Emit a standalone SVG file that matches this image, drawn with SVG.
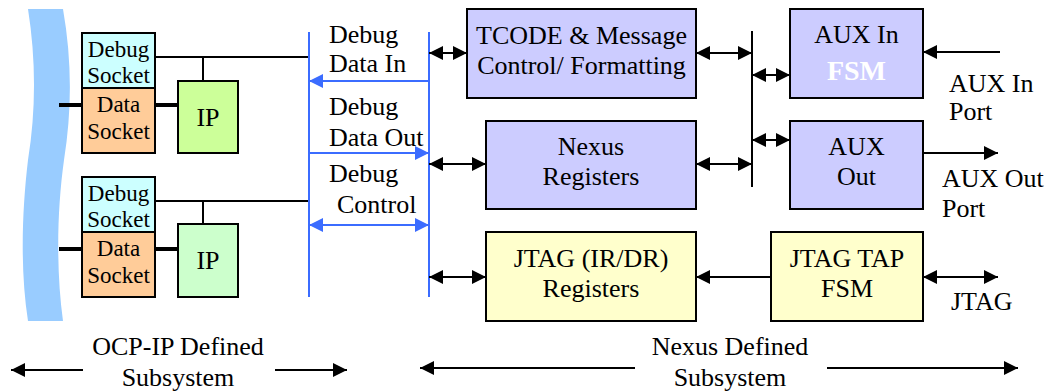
<svg xmlns="http://www.w3.org/2000/svg" width="1047" height="391" viewBox="0 0 1047 391">
  <style>
    text { font-family: "Liberation Serif", "Times New Roman", serif; font-size: 26px; fill: #000; }
    .sock { font-size: 23px; }
    .mid { text-anchor: middle; }
    .box { stroke: #000; stroke-width: 2; }
    .dbg { fill: #ccffff; }
    .dat { fill: #ffcc99; }
    .ip1 { fill: #ccff99; }
    .ip2 { fill: #ccffcc; }
    .nex { fill: #ccccff; }
    .jtg { fill: #ffffcc; }
    .wire { stroke: #000; stroke-width: 2; fill: none; }
    .thick { stroke: #000; stroke-width: 4; fill: none; }
    .bus { stroke: #3b6cff; stroke-width: 2; fill: none; }
    .ab { marker-end: url(#ah); }
    .aa { marker-start: url(#ah); marker-end: url(#ah); }
    .bb { marker-end: url(#bh); }
    .ba { marker-start: url(#bh); marker-end: url(#bh); }
  </style>
  <defs>
    <marker id="ah" markerUnits="userSpaceOnUse" markerWidth="14" markerHeight="14" refX="14" refY="7" orient="auto-start-reverse">
      <path d="M0,0 L14,7 L0,14 Z" fill="#000"/>
    </marker>
    <marker id="bh" markerUnits="userSpaceOnUse" markerWidth="14" markerHeight="14" refX="14" refY="7" orient="auto-start-reverse">
      <path d="M0,0 L14,7 L0,14 Z" fill="#3b6cff"/>
    </marker>
  </defs>

  <rect width="1047" height="391" fill="#fff"/>

  <!-- OCP interconnect backbone -->
  <g id="ocp-bus">
    <path d="M28,9 L63,9 C72,60 72,110 64,160 C57,210 56,270 63,321 L28,321 C20,270 22,210 28,160 C36,110 36,60 28,9 Z" fill="#99ccff"/>
  </g>

  <!-- upper IP core with its sockets -->
  <g id="ip-core-1">
    <rect class="box dbg" x="82" y="33" width="73" height="55"/>
    <text class="sock mid" x="118.5" y="57">Debug</text>
    <text class="sock mid" x="118.5" y="83">Socket</text>
    <rect class="box dat" x="82" y="88" width="73" height="65"/>
    <text class="sock mid" x="118.5" y="112">Data</text>
    <text class="sock mid" x="118.5" y="139">Socket</text>
    <rect class="box ip1" x="178" y="81" width="60" height="72"/>
    <text class="mid" x="208" y="126">IP</text>
  </g>

  <!-- lower IP core with its sockets -->
  <g id="ip-core-2">
    <rect class="box dbg" x="82" y="177" width="73" height="55"/>
    <text class="sock mid" x="118.5" y="201">Debug</text>
    <text class="sock mid" x="118.5" y="227">Socket</text>
    <rect class="box dat" x="82" y="232" width="73" height="65"/>
    <text class="sock mid" x="118.5" y="256">Data</text>
    <text class="sock mid" x="118.5" y="283">Socket</text>
    <rect class="box ip2" x="178" y="224" width="60" height="73"/>
    <text class="mid" x="208" y="269">IP</text>
  </g>

  <!-- debug bus signal labels -->
  <g id="debug-bus-labels">
    <text x="329" y="43">Debug</text>
    <text x="329" y="72">Data In</text>
    <text x="329" y="115">Debug</text>
    <text x="329" y="146">Data Out</text>
    <text x="329" y="182">Debug</text>
    <text x="337" y="213">Control</text>
  </g>

  <g id="tcode">
    <rect class="box nex" x="467" y="9" width="229" height="89"/>
    <text class="mid" x="581.5" y="44">TCODE &amp; Message</text>
    <text class="mid" x="581.5" y="74">Control/ Formatting</text>
  </g>

  <g id="nexus-registers">
    <rect class="box nex" x="486" y="121" width="210" height="88"/>
    <text class="mid" x="591" y="155">Nexus</text>
    <text class="mid" x="591" y="185">Registers</text>
  </g>

  <g id="aux-in">
    <rect class="box nex" x="790" y="9" width="133" height="89"/>
    <text class="mid" x="856.5" y="43">AUX In</text>
    <text class="mid" x="856.5" y="80" style="font-weight:bold;font-size:28px;fill:#fff">FSM</text>
  </g>

  <g id="aux-out">
    <rect class="box nex" x="790" y="121" width="133" height="88"/>
    <text class="mid" x="856.5" y="155">AUX</text>
    <text class="mid" x="856.5" y="185">Out</text>
  </g>

  <g id="jtag-registers">
    <rect class="box jtg" x="486" y="232" width="210" height="89"/>
    <text class="mid" x="591" y="267">JTAG (IR/DR)</text>
    <text class="mid" x="591" y="297">Registers</text>
  </g>

  <g id="jtag-tap">
    <rect class="box jtg" x="771" y="232" width="152" height="89"/>
    <text class="mid" x="847" y="267">JTAG TAP</text>
    <text class="mid" x="847" y="297">FSM</text>
  </g>

  <!-- external port labels -->
  <g id="port-labels">
    <text x="949" y="92">AUX In</text>
    <text x="949" y="120">Port</text>
    <text x="942" y="187">AUX Out</text>
    <text x="942" y="217">Port</text>
    <text x="951" y="310">JTAG</text>
  </g>

  <!-- subsystem extents -->
  <g id="subsystem-labels">
    <text class="mid" x="178" y="355">OCP-IP Defined</text>
    <text class="mid" x="178" y="386">Subsystem</text>
    <text class="mid" x="730" y="355">Nexus Defined</text>
    <text class="mid" x="730" y="386">Subsystem</text>
  </g>

  <g id="connectors">
    <!-- socket links -->
    <line class="thick" x1="59" y1="105" x2="82" y2="105"/>
    <line class="thick" x1="155" y1="105" x2="178" y2="105"/>
    <line class="thick" x1="59" y1="249" x2="82" y2="249"/>
    <line class="thick" x1="155" y1="249" x2="178" y2="249"/>
    <polyline class="wire" points="155,57 309,57"/>
    <line class="wire" x1="203" y1="57" x2="203" y2="81"/>
    <polyline class="wire" points="155,201 309,201"/>
    <line class="wire" x1="203" y1="201" x2="203" y2="224"/>

    <!-- debug bus rails -->
    <line class="bus" x1="309" y1="32" x2="309" y2="297"/>
    <line class="bus" x1="429" y1="32" x2="429" y2="297"/>
    <line class="bus bb" x1="429" y1="81" x2="309" y2="81"/>
    <line class="bus bb" x1="309" y1="153" x2="429" y2="153"/>
    <line class="bus ba" x1="309" y1="225" x2="429" y2="225"/>

    <!-- Nexus side -->
    <line class="wire aa" x1="429" y1="53" x2="467" y2="53"/>
    <line class="wire aa" x1="429" y1="164" x2="486" y2="164"/>
    <line class="wire aa" x1="429" y1="277" x2="486" y2="277"/>
    <line class="wire aa" x1="696" y1="53" x2="752" y2="53"/>
    <line class="wire aa" x1="696" y1="164" x2="752" y2="164"/>
    <line class="wire" x1="752" y1="31" x2="752" y2="187"/>
    <line class="wire aa" x1="752" y1="75" x2="790" y2="75"/>
    <line class="wire aa" x1="752" y1="140" x2="790" y2="140"/>
    <line class="wire ab" x1="1000" y1="52" x2="923" y2="52"/>
    <line class="wire ab" x1="923" y1="153" x2="998" y2="153"/>
    <line class="wire ab" x1="771" y1="277" x2="696" y2="277"/>
    <line class="wire aa" x1="923" y1="277" x2="998" y2="277"/>

    <!-- subsystem extent arrows -->
    <line class="wire ab" x1="83" y1="370" x2="11" y2="370"/>
    <line class="wire ab" x1="275" y1="370" x2="347" y2="370"/>
    <line class="wire ab" x1="635" y1="368" x2="420" y2="368"/>
    <line class="wire ab" x1="827" y1="368" x2="1018" y2="368"/>
  </g>
</svg>
